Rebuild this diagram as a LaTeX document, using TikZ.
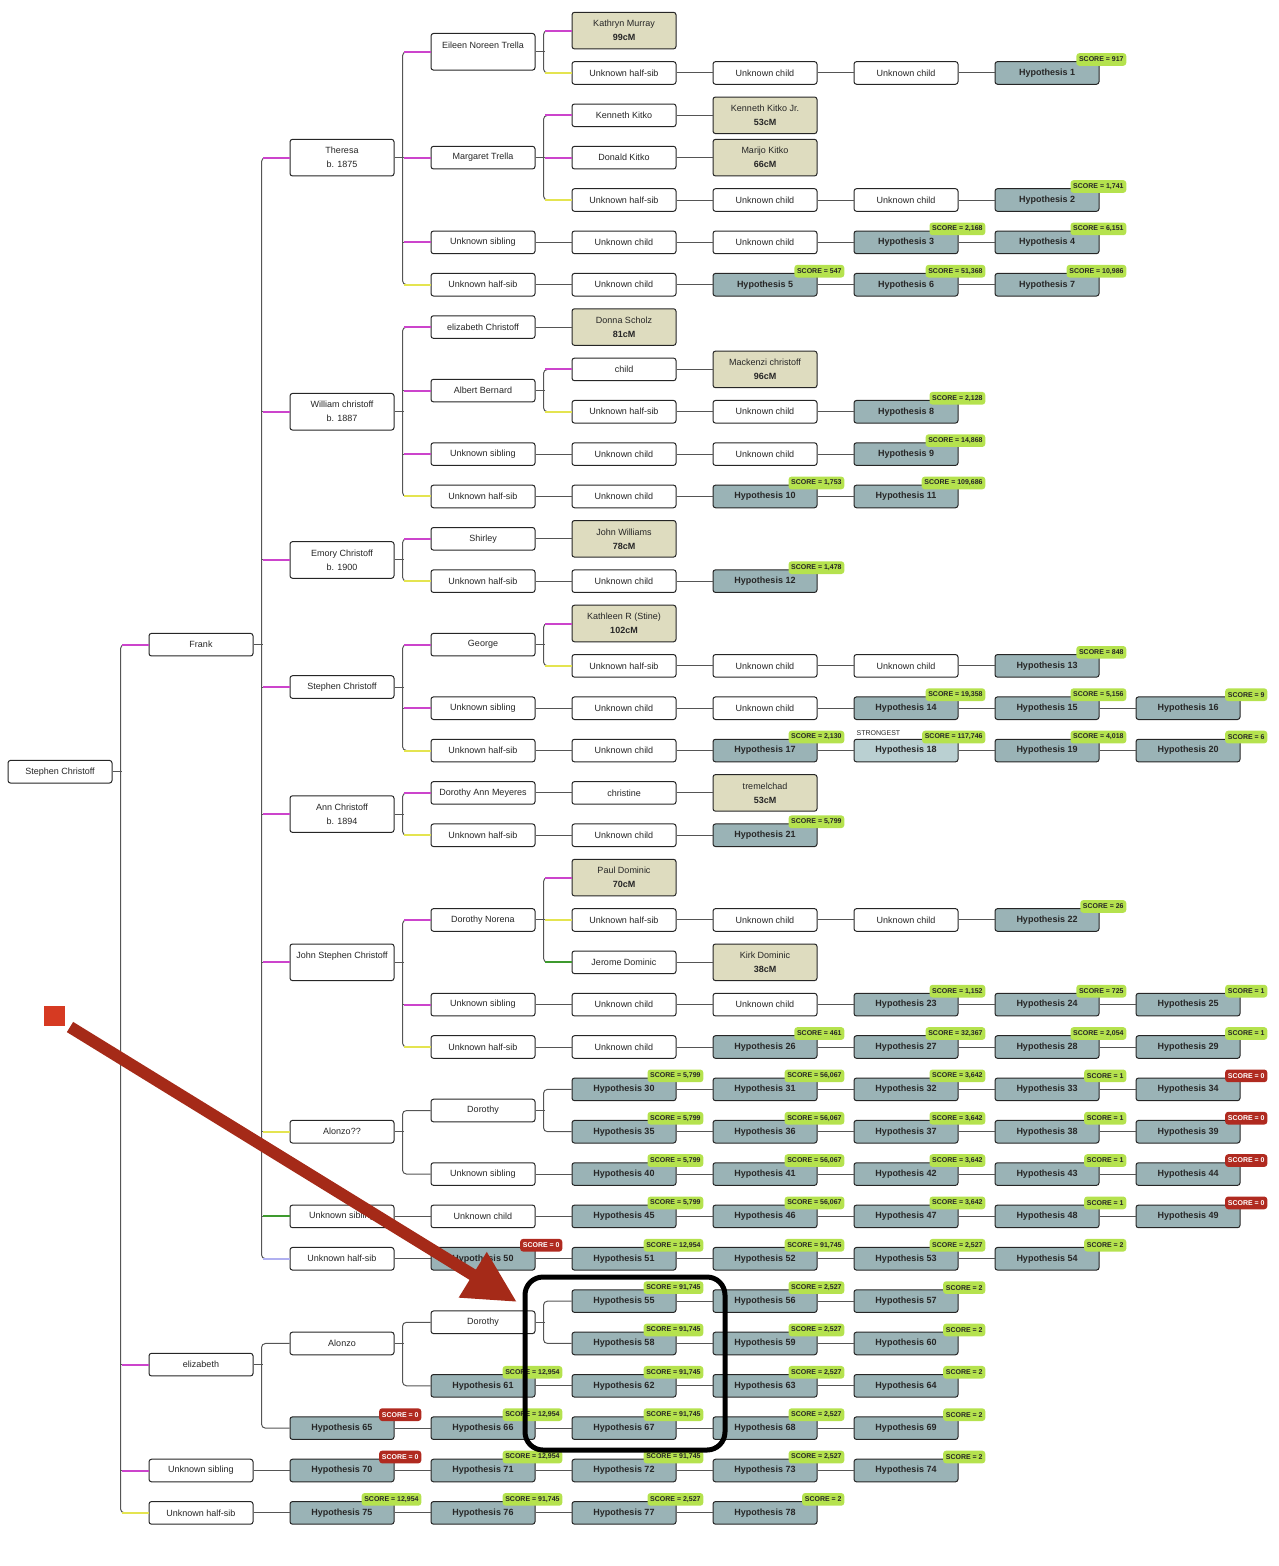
\documentclass[tikz,border=0pt]{standalone}
\usepackage{fontspec}
\setmainfont{Liberation Sans}
\usetikzlibrary{arrows.meta,calc}
\definecolor{tanc}{HTML}{DEDCBF}
\definecolor{hypc}{HTML}{9AB3B6}
\definecolor{hypl}{HTML}{BAD0D2}
\definecolor{scg}{HTML}{B5E24E}
\definecolor{scr}{HTML}{B02A20}
\definecolor{magc}{HTML}{CC44CC}
\definecolor{yelc}{HTML}{E4E450}
\definecolor{grnc}{HTML}{3E9A2E}
\definecolor{lavc}{HTML}{B0B0F0}
\definecolor{linec}{HTML}{555555}
\definecolor{arrc}{HTML}{A52A18}
\definecolor{sqc}{HTML}{D63A22}
\tikzset{
 bx/.style={draw=black!85, line width=1pt, rounded corners=2.5pt, minimum width=104pt, minimum height=22.6pt, inner sep=0pt, fill=white, align=center, text=black!85, font=\fontsize{9}{14}\selectfont},
 tl/.style={bx, minimum height=36.6pt},
 tn/.style={tl, fill=tanc},
 hy/.style={bx, fill=hypc, font=\fontsize{9}{14}\selectfont\bfseries},
 ln/.style={draw=linec, line width=1pt},
 badge/.style={anchor=east, rounded corners=3pt, inner xsep=2.7pt, inner ysep=0pt, minimum height=12.7pt, font=\fontsize{7}{8}\selectfont\bfseries},
 sg/.style={badge, fill=scg, text=black!85},
 sr/.style={badge, fill=scr, text=white},
 mg/.style={draw=magc}, yl/.style={draw=yelc}, gn/.style={draw=grnc}, lv/.style={draw=lavc},
}
\newcommand\mkN[5]{\node[#4] (#1) at ({60+141*(#2)},{30.6+42.35*(#3)}) {#5};}
\newcommand\mkH[5]{\node[hy] (#1) at ({60+141*(#2)},{30.6+42.35*(#3)}) {Hypothesis #4};
 \node[sg] at ([xshift=27pt,yshift=1.7pt]#1.north east) {SCORE = #5};}
\newcommand\mkZ[4]{\node[hy] (#1) at ({60+141*(#2)},{30.6+42.35*(#3)}) {Hypothesis #4};
 \node[sr] at ([xshift=27pt,yshift=1.7pt]#1.north east) {SCORE = 0};}
\newcommand\mkbr[3]{\draw[ln] (#1.east) -- ++(9pt,0pt);
 \draw[ln,rounded corners=4pt] (#2.west) -- ++(-28pt,0pt) |- (#3.west);}
\newcommand\mkmd[1]{\draw[ln] (#1.west) -- ++(-28pt,0pt);}
\newcommand\mkcl[2]{\draw[#1,line width=2pt] (#2.west) -- ++(-26.5pt,0pt);}
\begin{document}
\begin{tikzpicture}[x=1pt,y=-1pt]
\useasboundingbox (0,0) rectangle (1278,1566);
% ---- column 0 / 1
\mkN{root}{0}{17.5}{bx}{Stephen Christoff}
\mkN{frank}{1}{14.5}{bx}{Frank}
\mkN{eliz}{1}{31.5}{bx}{elizabeth}
\mkN{usib1}{1}{34}{bx}{Unknown sibling}
\mkN{uhs1}{1}{35}{bx}{Unknown half-sib}
% ---- column 2
\mkN{theresa}{2}{3}{tl}{Theresa\\b. 1875}
\mkN{william}{2}{9}{tl}{William christoff\\b. 1887}
\mkN{emory}{2}{12.5}{tl}{Emory Christoff\\b. 1900}
\mkN{steph}{2}{15.5}{bx}{Stephen Christoff}
\mkN{ann}{2}{18.5}{tl}{Ann Christoff\\b. 1894}
\mkN{john}{2}{22}{tl}{John Stephen Christoff\\\mbox{}}
\mkN{alonzoq}{2}{26}{bx}{Alonzo??}
\mkN{usib2}{2}{28}{bx}{Unknown sibling}
\mkN{uhs2}{2}{29}{bx}{Unknown half-sib}
\mkN{alonzo}{2}{31}{bx}{Alonzo}
\mkZ{H65}{2}{33}{65}
\mkZ{H70}{2}{34}{70}
\mkH{H75}{2}{35}{75}{12,954}
% ---- column 3
\mkN{eileen}{3}{0.5}{tl}{Eileen Noreen Trella\\\mbox{}}
\mkN{margaret}{3}{3}{bx}{Margaret Trella}
\mkN{a5c3}{3}{5}{bx}{Unknown sibling}
\mkN{a6c3}{3}{6}{bx}{Unknown half-sib}
\mkN{elizc}{3}{7}{bx}{elizabeth Christoff}
\mkN{albert}{3}{8.5}{bx}{Albert Bernard}
\mkN{a10c3}{3}{10}{bx}{Unknown sibling}
\mkN{a11c3}{3}{11}{bx}{Unknown half-sib}
\mkN{shirley}{3}{12}{bx}{Shirley}
\mkN{a13c3}{3}{13}{bx}{Unknown half-sib}
\mkN{george}{3}{14.5}{bx}{George}
\mkN{a16c3}{3}{16}{bx}{Unknown sibling}
\mkN{a17c3}{3}{17}{bx}{Unknown half-sib}
\mkN{dam}{3}{18}{bx}{Dorothy Ann Meyeres}
\mkN{a19c3}{3}{19}{bx}{Unknown half-sib}
\mkN{dnorena}{3}{21}{bx}{Dorothy Norena}
\mkN{a23c3}{3}{23}{bx}{Unknown sibling}
\mkN{a24c3}{3}{24}{bx}{Unknown half-sib}
\mkN{dorothyA}{3}{25.5}{bx}{Dorothy}
\mkN{a27c3}{3}{27}{bx}{Unknown sibling}
\mkN{a28c3}{3}{28}{bx}{Unknown child}
\mkZ{H50}{3}{29}{50}
\mkN{dorothyB}{3}{30.5}{bx}{Dorothy}
\mkH{H61}{3}{32}{61}{12,954}
\mkH{H66}{3}{33}{66}{12,954}
\mkH{H71}{3}{34}{71}{12,954}
\mkH{H76}{3}{35}{76}{91,745}
% ---- column 4
\mkN{kathryn}{4}{0}{tn}{Kathryn Murray\\\textbf{99cM}}
\mkN{a1c4}{4}{1}{bx}{Unknown half-sib}
\mkN{kenneth}{4}{2}{bx}{Kenneth Kitko}
\mkN{donald}{4}{3}{bx}{Donald Kitko}
\mkN{a4c4}{4}{4}{bx}{Unknown half-sib}
\mkN{a5c4}{4}{5}{bx}{Unknown child}
\mkN{a6c4}{4}{6}{bx}{Unknown child}
\mkN{donna}{4}{7}{tn}{Donna Scholz\\\textbf{81cM}}
\mkN{child}{4}{8}{bx}{child}
\mkN{a9c4}{4}{9}{bx}{Unknown half-sib}
\mkN{a10c4}{4}{10}{bx}{Unknown child}
\mkN{a11c4}{4}{11}{bx}{Unknown child}
\mkN{jwill}{4}{12}{tn}{John Williams\\\textbf{78cM}}
\mkN{a13c4}{4}{13}{bx}{Unknown child}
\mkN{kathleen}{4}{14}{tn}{Kathleen R (Stine)\\\textbf{102cM}}
\mkN{a15c4}{4}{15}{bx}{Unknown half-sib}
\mkN{a16c4}{4}{16}{bx}{Unknown child}
\mkN{a17c4}{4}{17}{bx}{Unknown child}
\mkN{christine}{4}{18}{bx}{christine}
\mkN{a19c4}{4}{19}{bx}{Unknown child}
\mkN{paul}{4}{20}{tn}{Paul Dominic\\\textbf{70cM}}
\mkN{a21c4}{4}{21}{bx}{Unknown half-sib}
\mkN{jerome}{4}{22}{bx}{Jerome Dominic}
\mkN{a23c4}{4}{23}{bx}{Unknown child}
\mkN{a24c4}{4}{24}{bx}{Unknown child}
\mkH{H30}{4}{25}{30}{5,799}
\mkH{H35}{4}{26}{35}{5,799}
\mkH{H40}{4}{27}{40}{5,799}
\mkH{H45}{4}{28}{45}{5,799}
\mkH{H51}{4}{29}{51}{12,954}
\mkH{H55}{4}{30}{55}{91,745}
\mkH{H58}{4}{31}{58}{91,745}
\mkH{H62}{4}{32}{62}{91,745}
\mkH{H67}{4}{33}{67}{91,745}
\mkH{H72}{4}{34}{72}{91,745}
\mkH{H77}{4}{35}{77}{2,527}
% ---- column 5
\mkN{a1c5}{5}{1}{bx}{Unknown child}
\mkN{kkjr}{5}{2}{tn}{Kenneth Kitko Jr.\\\textbf{53cM}}
\mkN{marijo}{5}{3}{tn}{Marijo Kitko\\\textbf{66cM}}
\mkN{a4c5}{5}{4}{bx}{Unknown child}
\mkN{a5c5}{5}{5}{bx}{Unknown child}
\mkH{H5}{5}{6}{5}{547}
\mkN{mack}{5}{8}{tn}{Mackenzi christoff\\\textbf{96cM}}
\mkN{a9c5}{5}{9}{bx}{Unknown child}
\mkN{a10c5}{5}{10}{bx}{Unknown child}
\mkH{H10}{5}{11}{10}{1,753}
\mkH{H12}{5}{13}{12}{1,478}
\mkN{a15c5}{5}{15}{bx}{Unknown child}
\mkN{a16c5}{5}{16}{bx}{Unknown child}
\mkH{H17}{5}{17}{17}{2,130}
\mkN{trem}{5}{18}{tn}{tremelchad\\\textbf{53cM}}
\mkH{H21}{5}{19}{21}{5,799}
\mkN{a21c5}{5}{21}{bx}{Unknown child}
\mkN{kirk}{5}{22}{tn}{Kirk Dominic\\\textbf{38cM}}
\mkN{a23c5}{5}{23}{bx}{Unknown child}
\mkH{H26}{5}{24}{26}{461}
\mkH{H31}{5}{25}{31}{56,067}
\mkH{H36}{5}{26}{36}{56,067}
\mkH{H41}{5}{27}{41}{56,067}
\mkH{H46}{5}{28}{46}{56,067}
\mkH{H52}{5}{29}{52}{91,745}
\mkH{H56}{5}{30}{56}{2,527}
\mkH{H59}{5}{31}{59}{2,527}
\mkH{H63}{5}{32}{63}{2,527}
\mkH{H68}{5}{33}{68}{2,527}
\mkH{H73}{5}{34}{73}{2,527}
\mkH{H78}{5}{35}{78}{2}
% ---- column 6
\mkN{a1c6}{6}{1}{bx}{Unknown child}
\mkN{a4c6}{6}{4}{bx}{Unknown child}
\mkH{H3}{6}{5}{3}{2,168}
\mkH{H6}{6}{6}{6}{51,368}
\mkH{H8}{6}{9}{8}{2,128}
\mkH{H9}{6}{10}{9}{14,868}
\mkH{H11}{6}{11}{11}{109,686}
\mkN{a15c6}{6}{15}{bx}{Unknown child}
\mkH{H14}{6}{16}{14}{19,358}
\node[hy, fill=hypl] (H18) at ({60+141*6},{30.6+42.35*17}) {Hypothesis 18};
\node[sg] at ([xshift=27pt,yshift=1.7pt]H18.north east) {SCORE = 117,746};
\node[anchor=base west, inner sep=0pt, font=\fontsize{7}{8}\selectfont, text=black!85] (strong) at ([xshift=3pt,yshift=3pt]H18.north west) {STRONGEST};
\mkN{a21c6}{6}{21}{bx}{Unknown child}
\mkH{H23}{6}{23}{23}{1,152}
\mkH{H27}{6}{24}{27}{32,367}
\mkH{H32}{6}{25}{32}{3,642}
\mkH{H37}{6}{26}{37}{3,642}
\mkH{H42}{6}{27}{42}{3,642}
\mkH{H47}{6}{28}{47}{3,642}
\mkH{H53}{6}{29}{53}{2,527}
\mkH{H57}{6}{30}{57}{2}
\mkH{H60}{6}{31}{60}{2}
\mkH{H64}{6}{32}{64}{2}
\mkH{H69}{6}{33}{69}{2}
\mkH{H74}{6}{34}{74}{2}
% ---- column 7
\mkH{H1}{7}{1}{1}{917}
\mkH{H2}{7}{4}{2}{1,741}
\mkH{H4}{7}{5}{4}{6,151}
\mkH{H7}{7}{6}{7}{10,986}
\mkH{H13}{7}{15}{13}{848}
\mkH{H15}{7}{16}{15}{5,156}
\mkH{H19}{7}{17}{19}{4,018}
\mkH{H22}{7}{21}{22}{26}
\mkH{H24}{7}{23}{24}{725}
\mkH{H28}{7}{24}{28}{2,054}
\mkH{H33}{7}{25}{33}{1}
\mkH{H38}{7}{26}{38}{1}
\mkH{H43}{7}{27}{43}{1}
\mkH{H48}{7}{28}{48}{1}
\mkH{H54}{7}{29}{54}{2}
% ---- column 8
\mkH{H16}{8}{16}{16}{9}
\mkH{H20}{8}{17}{20}{6}
\mkH{H25}{8}{23}{25}{1}
\mkH{H29}{8}{24}{29}{1}
\mkZ{H34}{8}{25}{34}
\mkZ{H39}{8}{26}{39}
\mkZ{H44}{8}{27}{44}
\mkZ{H49}{8}{28}{49}
% ---- chains
\foreach \a/\b in {a1c4/a1c5, a1c5/a1c6, a1c6/H1, kenneth/kkjr, donald/marijo,
 a4c4/a4c5, a4c5/a4c6, a4c6/H2, a5c3/a5c4, a5c4/a5c5, a5c5/H3, H3/H4,
 a6c3/a6c4, a6c4/H5, H5/H6, H6/H7, elizc/donna, child/mack, a9c4/a9c5, a9c5/H8,
 a10c3/a10c4, a10c4/a10c5, a10c5/H9, a11c3/a11c4, a11c4/H10, H10/H11,
 shirley/jwill, a13c3/a13c4, a13c4/H12, a15c4/a15c5, a15c5/a15c6, a15c6/H13,
 a16c3/a16c4, a16c4/a16c5, a16c5/H14, H14/H15, H15/H16,
 a17c3/a17c4, a17c4/H17, H17/H18, H18/H19, H19/H20,
 dam/christine, christine/trem, a19c3/a19c4, a19c4/H21,
 a21c4/a21c5, a21c5/a21c6, a21c6/H22, jerome/kirk,
 a23c3/a23c4, a23c4/a23c5, a23c5/H23, H23/H24, H24/H25,
 a24c3/a24c4, a24c4/H26, H26/H27, H27/H28, H28/H29,
 H30/H31, H31/H32, H32/H33, H33/H34, H35/H36, H36/H37, H37/H38, H38/H39,
 a27c3/H40, H40/H41, H41/H42, H42/H43, H43/H44,
 usib2/a28c3, a28c3/H45, H45/H46, H46/H47, H47/H48, H48/H49,
 uhs2/H50, H50/H51, H51/H52, H52/H53, H53/H54, H55/H56, H56/H57, H58/H59, H59/H60,
 H61/H62, H62/H63, H63/H64, H65/H66, H66/H67, H67/H68, H68/H69,
 usib1/H70, H70/H71, H71/H72, H72/H73, H73/H74, uhs1/H75, H75/H76, H76/H77, H77/H78}
 {\draw[ln] (\a) -- (\b);}
% ---- branches
\mkbr{root}{frank}{uhs1} \mkmd{eliz} \mkmd{usib1}
\mkbr{frank}{theresa}{uhs2} \mkmd{william} \mkmd{emory} \mkmd{steph} \mkmd{ann} \mkmd{john} \mkmd{alonzoq} \mkmd{usib2}
\mkbr{theresa}{eileen}{a6c3} \mkmd{margaret} \mkmd{a5c3}
\mkbr{eileen}{kathryn}{a1c4}
\mkbr{margaret}{kenneth}{a4c4} \mkmd{donald}
\mkbr{william}{elizc}{a11c3} \mkmd{albert} \mkmd{a10c3}
\mkbr{albert}{child}{a9c4}
\mkbr{emory}{shirley}{a13c3}
\mkbr{steph}{george}{a17c3} \mkmd{a16c3}
\mkbr{george}{kathleen}{a15c4}
\mkbr{ann}{dam}{a19c3}
\mkbr{john}{dnorena}{a24c3} \mkmd{a23c3}
\mkbr{dnorena}{paul}{jerome} \mkmd{a21c4}
\mkbr{alonzoq}{dorothyA}{a27c3}
\mkbr{dorothyA}{H30}{H35}
\mkbr{eliz}{alonzo}{H65}
\mkbr{alonzo}{dorothyB}{H61}
\mkbr{dorothyB}{H55}{H58}
% ---- coloured links
\foreach \c in {frank, eliz, usib1, theresa, william, emory, steph, ann, john,
 eileen, margaret, a5c3, kathryn, kenneth, donald, elizc, albert, a10c3, child,
 shirley, george, a16c3, kathleen, dam, dnorena, a23c3, paul} {\mkcl{mg}{\c}}
\foreach \c in {uhs1, alonzoq, a6c3, a1c4, a4c4, a11c3, a9c4, a13c3, a17c3, a15c4,
 a19c3, a24c3, a21c4} {\mkcl{yl}{\c}}
\mkcl{gn}{usib2}
\mkcl{gn}{jerome}
\mkcl{lv}{uhs2}
% ---- annotation
\fill[sqc] (43.5,1006) rectangle (65,1026);
\coordinate (arrS) at (70,1027);
\coordinate (arrE) at (517,1302);
\draw[arrc, line width=12pt, -{Triangle[length=52pt,width=50pt]}] (arrS) -- (arrE);
\draw[black, line width=5pt, rounded corners=18pt] (525,1277) rectangle (725,1450);
\end{tikzpicture}
\end{document}
